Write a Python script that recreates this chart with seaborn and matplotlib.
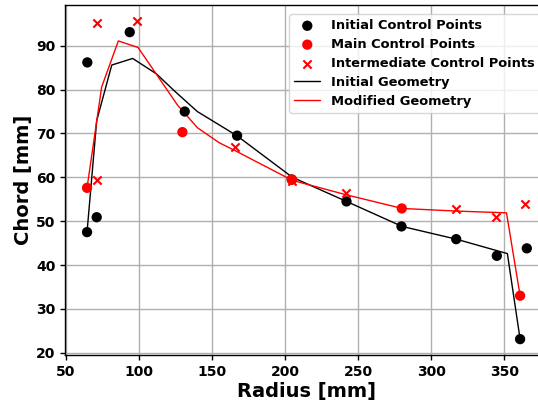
import matplotlib
matplotlib.use('Agg')
import matplotlib.pyplot as plt
import seaborn as sns

# control points
init_r = [64.6, 71.2, 64.8, 93.8, 131.4, 167.2, 204.6, 242.0, 279.6, 317.0, 344.8, 360.7, 365.3]
init_c = [47.5, 50.9, 86.2, 93.1, 75.0, 69.5, 59.5, 54.5, 48.8, 45.9, 42.1, 23.1, 43.8]

main_r = [64.6, 129.8, 204.6, 279.8, 360.7]
main_c = [57.6, 70.3, 59.5, 52.9, 33.0]

inter_r = [71.2, 71.2, 99.0, 166.1, 204.6, 241.7, 316.8, 344.1, 364.2]
inter_c = [59.4, 95.1, 95.7, 66.8, 59.1, 56.5, 52.7, 50.9, 54.0]

# geometry curves
geo_init_r = [64.6, 71.2, 81.5, 95.8, 112.0, 125.0, 140.0, 167.0, 205.0, 242.0, 280.0, 317.0, 352.0, 360.7]
geo_init_c = [47.5, 72.9, 85.6, 87.1, 83.6, 79.5, 75.0, 69.5, 60.0, 54.5, 48.8, 45.9, 42.6, 23.1]

geo_mod_r = [64.6, 74.6, 86.0, 99.5, 126.4, 140.1, 154.9, 166.3, 205.0, 242.0, 280.0, 317.0, 351.4, 360.7]
geo_mod_c = [57.6, 80.6, 91.1, 89.6, 76.5, 71.3, 67.9, 66.0, 59.3, 56.0, 52.9, 52.3, 51.9, 33.0]

sns.set_style('ticks', rc={'text.color': 'black', 'axes.labelcolor': 'black',
                           'xtick.color': 'black', 'ytick.color': 'black',
                           'axes.edgecolor': 'black'})
plt.rcParams['font.family'] = ['DejaVu Sans']

fig = plt.figure(figsize=(5.38, 4.03), dpi=100)
# the original image was cropped: right spine and legend edge run past the border
ax = fig.add_axes([0.121, 0.119, 0.899, 0.869])

sns.scatterplot(x=init_r, y=init_c, ax=ax, color='black', s=55, edgecolor='none',
                label='Initial Control Points', zorder=3)
sns.scatterplot(x=main_r, y=main_c, ax=ax, color='red', s=55, edgecolor='none',
                label='Main Control Points', zorder=3)
sns.scatterplot(x=inter_r, y=inter_c, ax=ax, color='red', marker='x', s=35,
                linewidth=1.5, label='Intermediate Control Points', zorder=3)
sns.lineplot(x=geo_init_r, y=geo_init_c, ax=ax, color='black', linewidth=1,
             sort=False, estimator=None, label='Initial Geometry', zorder=2)
sns.lineplot(x=geo_mod_r, y=geo_mod_c, ax=ax, color='red', linewidth=1,
             sort=False, estimator=None, label='Modified Geometry', zorder=2)

ax.set_xlim(49.6, 380.3)
ax.set_ylim(19.47, 99.33)
ax.set_xticks([50, 100, 150, 200, 250, 300, 350])
ax.set_yticks([20, 30, 40, 50, 60, 70, 80, 90])
ax.grid(True, color='#b0b0b0', linewidth=1)
ax.set_axisbelow(True)
ax.tick_params(length=3.5, width=1)
for s in ax.spines.values():
    s.set_color('black')
    s.set_linewidth(1)

ax.set_xlabel('Radius [mm]', fontsize=14, fontweight='bold', labelpad=2)
ax.set_ylabel('Chord [mm]', fontsize=14, fontweight='bold', labelpad=2)
for lbl in ax.get_xticklabels() + ax.get_yticklabels():
    lbl.set_fontweight('bold')
    lbl.set_fontsize(10)

ax.legend(loc='upper right', prop={'weight': 'bold', 'size': 9.4}, framealpha=0.8,
          labelspacing=0.45, borderaxespad=0.7)

fig.savefig('out.png', dpi=100)
